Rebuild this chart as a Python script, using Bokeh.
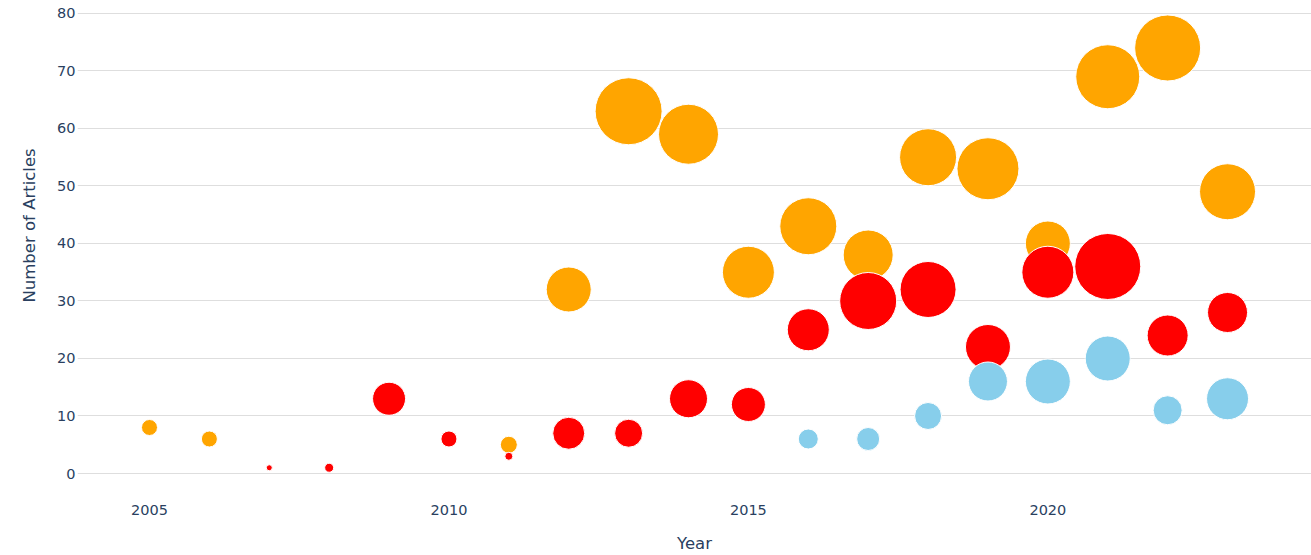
from bokeh.plotting import figure
from bokeh.models import Range1d, FixedTicker, ColumnDataSource, Title
from bokeh.embed import file_html
from bokeh.resources import INLINE

# ---- data ----
orange_years = [2005, 2006, 2011, 2012, 2013, 2014, 2015, 2016, 2017, 2018, 2019, 2020, 2021, 2022, 2023]
orange_counts = [8, 6, 5, 32, 63, 59, 35, 43, 38, 55, 53, 40, 69, 74, 49]
orange_sizes = [16, 16, 17, 45, 67, 60, 52, 57, 50, 57, 62, 45, 64, 66, 56]

red_years = [2007, 2008, 2009, 2010, 2011, 2012, 2013, 2014, 2015, 2016, 2017, 2018, 2019, 2020, 2021, 2022, 2023]
red_counts = [1, 1, 13, 6, 3, 7, 7, 13, 12, 25, 30, 32, 22, 35, 36, 24, 28]
red_sizes = [6, 9, 33, 16, 8, 32, 28, 38, 34, 42, 57, 56, 45, 52, 66, 41, 40]

blue_years = [2016, 2017, 2018, 2019, 2020, 2021, 2022, 2023]
blue_counts = [6, 6, 10, 16, 16, 20, 11, 13]
blue_sizes = [20, 23, 27, 39, 45, 45, 29, 42]

x_ticks = [2005, 2010, 2015, 2020]
y_ticks = [0, 10, 20, 30, 40, 50, 60, 70, 80]

x_title = "Year"
y_title = "Number of Articles"

FONT = "DejaVu Sans"
TEXT_COLOR = "#2a3f5f"

p = figure(
    frame_width=1234, frame_height=495,
    x_range=Range1d(2003.798, 2024.402),
    y_range=Range1d(-3.826, 82.26),
    output_backend="svg", toolbar_location=None,
    min_border_left=77, min_border_right=0, min_border_top=0, min_border_bottom=0,
)
p.outline_line_color = None
p.background_fill_color = "white"
p.border_fill_color = "white"

series = [
    (orange_years, orange_counts, orange_sizes, "#FFA500"),
    (red_years, red_counts, red_sizes, "#FF0000"),
    (blue_years, blue_counts, blue_sizes, "#87CEEB"),
]
for yrs, cnts, szs, col in series:
    src = ColumnDataSource(dict(x=yrs, y=cnts, s=szs))
    p.scatter("x", "y", size="s", source=src, fill_color=col, line_color="white",
              line_width=1, fill_alpha=1.0)

p.xaxis.ticker = FixedTicker(ticks=x_ticks)
p.yaxis.ticker = FixedTicker(ticks=y_ticks)
p.xgrid.grid_line_color = None
p.ygrid.grid_line_color = "#dedede"
p.ygrid.grid_line_width = 1

for ax in (p.xaxis[0], p.yaxis[0]):
    ax.axis_line_color = None
    ax.major_tick_line_color = None
    ax.minor_tick_line_color = None
    ax.major_tick_out = 0
    ax.major_tick_in = 0
    ax.major_label_text_font = FONT
    ax.major_label_text_font_size = "14.5px"
    ax.major_label_text_color = TEXT_COLOR
    ax.axis_label_text_font = FONT
    ax.axis_label_text_font_size = "16.5px"
    ax.axis_label_text_font_style = "normal"
    ax.axis_label_text_color = TEXT_COLOR

p.xaxis.axis_label = x_title
p.xaxis.major_label_standoff = 9
p.xaxis.axis_label_standoff = 16
p.yaxis.major_label_standoff = 2

# y-axis title as a side title so it can sit slightly above the frame centre
ytitle = Title(text=y_title, align="left", offset=193, standoff=31,
               text_font=FONT, text_font_size="16.5px", text_font_style="normal",
               text_color=TEXT_COLOR)
p.add_layout(ytitle, "left")

open("out.html", "w").write(file_html(p, INLINE))
